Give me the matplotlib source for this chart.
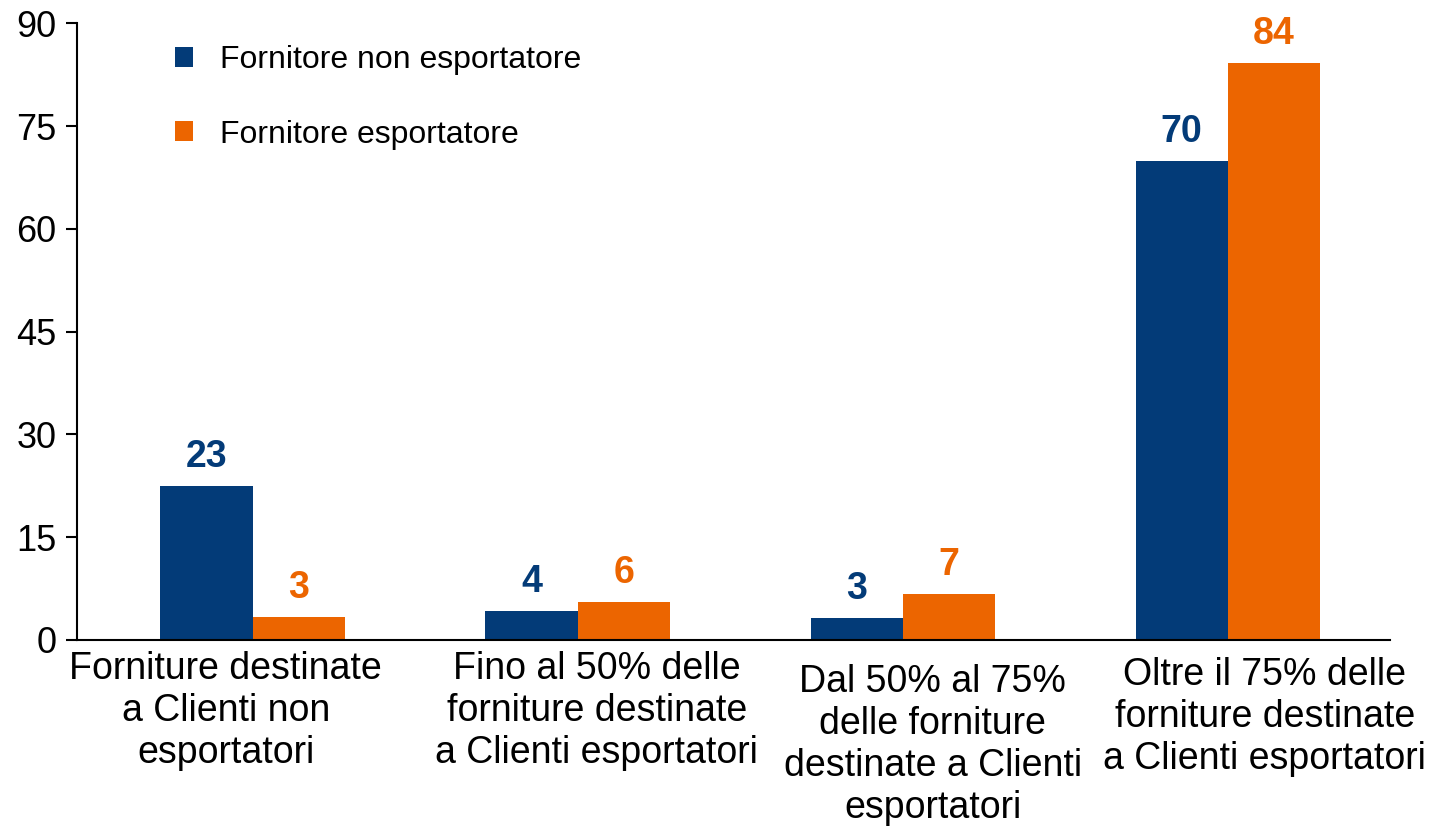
import matplotlib
matplotlib.use("Agg")
import matplotlib.pyplot as plt
import matplotlib.transforms as mtransforms
import numpy as np

plt.rcParams['font.family'] = ['Liberation Sans', 'DejaVu Sans']

categories = [
    "Forniture destinate\na Clienti non\nesportatori",
    "Fino al 50% delle\nforniture destinate\na Clienti esportatori",
    "Dal 50% al 75%\ndelle forniture\ndestinate a Clienti\nesportatori",
    "Oltre il 75% delle\nforniture destinate\na Clienti esportatori",
]
series_names = ["Fornitore non esportatore", "Fornitore esportatore"]
non_export = [22.5, 4.2, 3.2, 69.9]
export = [3.3, 5.5, 6.7, 84.2]
non_export_labels = ["23", "4", "3", "70"]
export_labels = ["3", "6", "7", "84"]
yticks = [0, 15, 30, 45, 60, 75, 90]

blue = "#033B78"
orange = "#EC6500"

fig = plt.figure(figsize=(14.29, 8.32), dpi=100)
ax = fig.add_axes([0.054, 0.231, 0.919, 0.741])

x = np.arange(len(categories))
w = 0.284
b1 = ax.bar(x - w / 2, non_export, w, color=blue, label=series_names[0])
b2 = ax.bar(x + w / 2, export, w, color=orange, label=series_names[1])

for bars, labs, col in [(b1, non_export_labels, blue), (b2, export_labels, orange)]:
    for r, lab in zip(bars, labs):
        ax.annotate(lab, (r.get_x() + r.get_width() / 2, r.get_height()),
                    xytext=(0, 8), textcoords="offset points",
                    ha="center", va="bottom", fontsize=27, fontweight="bold",
                    color=col)

ax.set_xlim(-0.54, 3.5)
ax.set_ylim(0, 90)
ax.set_yticks(yticks)
ax.set_yticklabels([str(t) for t in yticks], fontsize=26)
ax.set_xticks(x)
ax.set_xticklabels(categories, fontsize=27, linespacing=1.22)
ax.tick_params(axis="x", length=0, pad=8)
ax.tick_params(axis="y", length=8, width=1.5, pad=7, direction="out")
for s in ["top", "right"]:
    ax.spines[s].set_visible(False)
for s in ["left", "bottom"]:
    ax.spines[s].set_linewidth(1.5)

# shift of category labels (pixels) to match the original layout
label_dx = [-27, 19, 30, 37]
label_dy = [0, 0, -13, -6]
for lbl, dx, dy in zip(ax.get_xticklabels(), label_dx, label_dy):
    lbl.set_transform(lbl.get_transform() +
                      mtransforms.ScaledTranslation(dx / 100, dy / 100, fig.dpi_scale_trans))

leg = ax.legend(loc="upper left", bbox_to_anchor=(0.0624, 0.99), frameon=False,
                fontsize=23, handlelength=0.57, handleheight=0.57, borderpad=0,
                labelspacing=1.38, handletextpad=0.85)

fig.savefig("out.png", dpi=100)
